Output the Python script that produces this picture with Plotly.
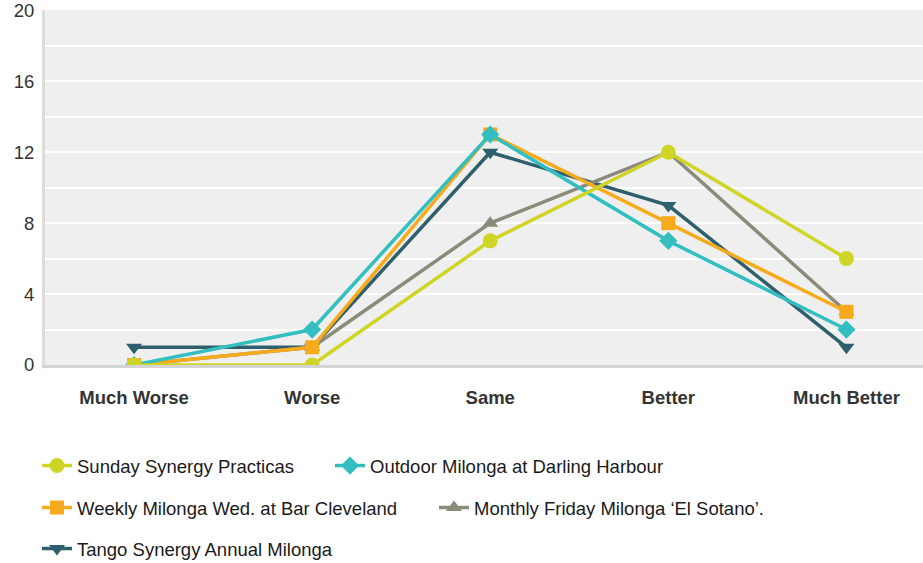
import plotly.graph_objects as go

categories = ["Much Worse", "Worse", "Same", "Better", "Much Better"]

sunday = [0, 0, 7, 12, 6]
outdoor = [0, 2, 13, 7, 2]
weekly = [0, 1, 13, 8, 3]
monthly = [0, 1, 8, 12, 3]
tango = [1, 1, 12, 9, 1]

names = {
    "sunday": "Sunday Synergy Practicas",
    "outdoor": "Outdoor Milonga at Darling Harbour",
    "weekly": "Weekly Milonga Wed. at Bar Cleveland",
    "monthly": "Monthly Friday Milonga \u2018El Sotano\u2019.",
    "tango": "Tango Synergy Annual Milonga",
}

y_ticks = [0, 4, 8, 12, 16, 20]

W, H = 923, 563
FONT = "Liberation Sans, Arial, sans-serif"

# drawing order (first = bottom)
series = [
    ("tango", tango, "#2e5f6c", "triangle-down", "legend5", 14),
    ("monthly", monthly, "#8a8b7b", "triangle-up", "legend4", 14),
    ("weekly", weekly, "#f6aa1c", "square", "legend3", 14),
    ("outdoor", outdoor, "#33bec0", "diamond", "legend2", 14),
    ("sunday", sunday, "#cfd526", "circle", "legend", 15),
]

fig = go.Figure()
for key, vals, col, sym, leg, ms in series:
    fig.add_trace(go.Scatter(
        x=categories, y=vals, name=names[key], mode="lines+markers",
        line=dict(color=col, width=3.5),
        marker=dict(color=col, symbol=sym, size=ms),
        legend=leg, showlegend=True,
    ))

leg_common = dict(
    orientation="h", xref="container", yref="container",
    xanchor="left", yanchor="middle", itemwidth=30,
    font=dict(family=FONT, size=18.5, color="#1a1a1a"),
    bgcolor="rgba(0,0,0,0)",
)

def leg(px, py):
    return dict(x=px / W, y=1 - py / H, **leg_common)

fig.update_layout(
    width=W, height=H, showlegend=True,
    margin=dict(l=45, r=0, t=10, b=198, autoexpand=False),
    paper_bgcolor="white", plot_bgcolor="#efefef",
    font=dict(family=FONT, size=18.5, color="#333333"),
    legend=leg(37, 466),
    legend2=leg(330, 466),
    legend3=leg(37, 508),
    legend4=leg(434, 508),
    legend5=leg(37, 549),
    xaxis=dict(
        type="category", range=[-0.5, 4.43], showgrid=False,
        showline=True, linecolor="#d4d4d4", linewidth=3,
        ticks="outside", ticklen=14, tickcolor="rgba(0,0,0,0)",
        tickfont=dict(family=FONT, size=18.5, color="#333333", weight="bold"),
        zeroline=False, fixedrange=True,
    ),
    yaxis=dict(
        range=[0, 20.02], tickvals=y_ticks, showgrid=True, gridcolor="white",
        gridwidth=2, showline=True, linecolor="#dcdcdc", linewidth=3,
        ticks="outside", ticklen=4, tickcolor="rgba(0,0,0,0)",
        ticklabeloverflow="allow",
        minor=dict(dtick=2, showgrid=True, gridcolor="white", gridwidth=2),
        zeroline=False, tickfont=dict(family=FONT, size=18.5, color="#333333"),
    ),
)

fig.write_html("out.html", config={"displayModeBar": False},
               post_script="document.body.style.margin='0';")
